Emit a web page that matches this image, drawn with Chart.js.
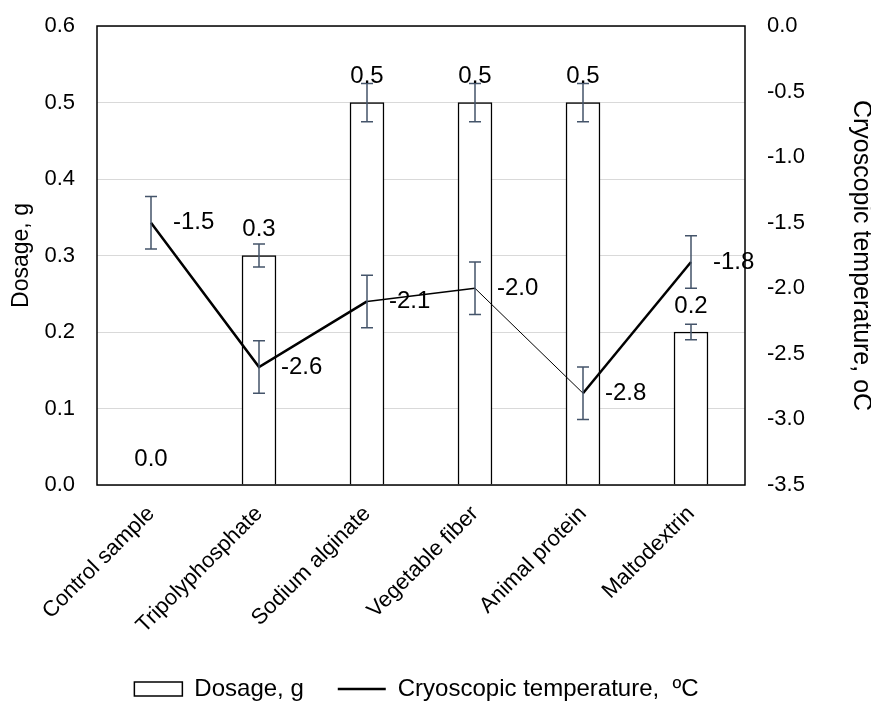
<!DOCTYPE html>
<html><head><meta charset="utf-8">
<script src="https://cdn.jsdelivr.net/npm/chart.js@4/dist/chart.umd.min.js"></script>
<style>html,body{margin:0;padding:0;background:#fff;overflow:hidden}#wrap{width:871px;height:703px;position:relative}</style>
</head><body><div id="wrap"><canvas id="c"></canvas></div>
<script>
const categories = ['Control sample','Tripolyphosphate','Sodium alginate','Vegetable fiber','Animal protein','Maltodextrin'];
const dosage = [0.0, 0.3, 0.5, 0.5, 0.5, 0.2];
const dosageError = [0, 0.015, 0.025, 0.025, 0.025, 0.01];
const cryoTemp = [-1.5, -2.6, -2.1, -2.0, -2.8, -1.8];
const cryoError = [0.2, 0.2, 0.2, 0.2, 0.2, 0.2];
const segmentWidths = [2.5, 2.5, 1.5, 1, 2.5];

const FONT = 'Liberation Sans, Arial, sans-serif';
Chart.defaults.font.family = FONT;
Chart.defaults.color = '#000';

const extras = {
  id: 'extras',
  afterDatasetsDraw(chart) {
    const ctx = chart.ctx, x = chart.scales.x, y = chart.scales.y, y1 = chart.scales.y1, a = chart.chartArea;
    ctx.save();
    ctx.strokeStyle = '#44546A';
    ctx.lineWidth = 1.5;
    const cap = 6;
    function eb(px, top, bot) {
      ctx.beginPath();
      ctx.moveTo(px, top); ctx.lineTo(px, bot);
      ctx.moveTo(px - cap, top); ctx.lineTo(px + cap, top);
      ctx.moveTo(px - cap, bot); ctx.lineTo(px + cap, bot);
      ctx.stroke();
    }
    categories.forEach((c, i) => {
      const px = x.getPixelForValue(i);
      if (dosageError[i] > 0) eb(px, y.getPixelForValue(dosage[i] + dosageError[i]), y.getPixelForValue(dosage[i] - dosageError[i]));
      eb(px, y1.getPixelForValue(cryoTemp[i] + cryoError[i]), y1.getPixelForValue(cryoTemp[i] - cryoError[i]));
    });
    ctx.fillStyle = '#000';
    ctx.font = '24px ' + FONT;
    ctx.textBaseline = 'middle';
    categories.forEach((c, i) => {
      const px = x.getPixelForValue(i);
      ctx.textAlign = 'center';
      ctx.fillText(dosage[i].toFixed(1), px, y.getPixelForValue(dosage[i]) - 26);
      ctx.textAlign = 'left';
      ctx.fillText(cryoTemp[i].toFixed(1), px + 22, y1.getPixelForValue(cryoTemp[i]));
    });
    ctx.strokeStyle = '#000';
    ctx.lineWidth = 1.5;
    ctx.strokeRect(a.left, a.top, a.right - a.left, a.bottom - a.top);
    ctx.restore();
  }
};

new Chart(document.getElementById('c'), {
  type: 'bar',
  data: {
    labels: categories,
    datasets: [
      {
        label: 'Dosage, g',
        data: dosage,
        yAxisID: 'y',
        backgroundColor: '#ffffff',
        borderColor: '#000000',
        borderWidth: 1.5,
        barThickness: 34,
        order: 2,
        pointStyle: 'rect'
      },
      {
        type: 'line',
        label: 'Cryoscopic temperature,  ºC',
        data: cryoTemp,
        yAxisID: 'y1',
        borderColor: '#000000',
        backgroundColor: '#000000',
        borderWidth: 2.5,
        pointRadius: 0,
        tension: 0,
        order: 1,
        pointStyle: 'line',
        segment: { borderWidth: ctx => segmentWidths[ctx.p0DataIndex] }
      }
    ]
  },
  options: {
    responsive: true,
    maintainAspectRatio: false,
    animation: false,
    layout: { padding: { top: 26, bottom: -8, left: 0, right: 38 } },
    plugins: {
      tooltip: { enabled: false },
      legend: {
        position: 'bottom',
        labels: {
          font: { size: 24 },
          usePointStyle: true,
          pointStyleWidth: 48,
          boxHeight: 14,
          padding: 34,
          color: '#000',
          sort: (a, b) => a.datasetIndex - b.datasetIndex
        }
      }
    },
    scales: {
      x: {
        grid: { display: false, drawTicks: false },
        border: { display: false },
        ticks: { font: { size: 22 }, maxRotation: 45, minRotation: 45, padding: 16, color: '#000' },
        afterFit: s => { s.height = 158; }
      },
      y: {
        position: 'left',
        min: 0, max: 0.6,
        ticks: { stepSize: 0.1, font: { size: 22 }, padding: 22, color: '#000', callback: v => Number(v).toFixed(1) },
        grid: { color: '#d9d9d9', lineWidth: 1, drawTicks: false },
        border: { display: false },
        title: { display: true, text: 'Dosage, g', font: { size: 23 }, padding: { top: 8, bottom: 0 }, color: '#000' },
        afterFit: s => { s.width = 97; s.paddingTop = 0; s.paddingBottom = 0; }
      },
      y1: {
        position: 'right',
        min: -3.5, max: 0,
        ticks: { stepSize: 0.5, font: { size: 22 }, padding: 22, color: '#000', callback: v => Number(v).toFixed(1) },
        grid: { display: false, drawTicks: false },
        border: { display: false },
        title: { display: true, text: 'Cryoscopic temperature, oC', font: { size: 25, lineHeight: 1 }, padding: { top: -40, bottom: 0 }, color: '#000' },
        afterFit: s => { s.width = 88; s.paddingTop = 0; s.paddingBottom = 0; }
      }
    }
  },
  plugins: [extras]
});
</script></body></html>
